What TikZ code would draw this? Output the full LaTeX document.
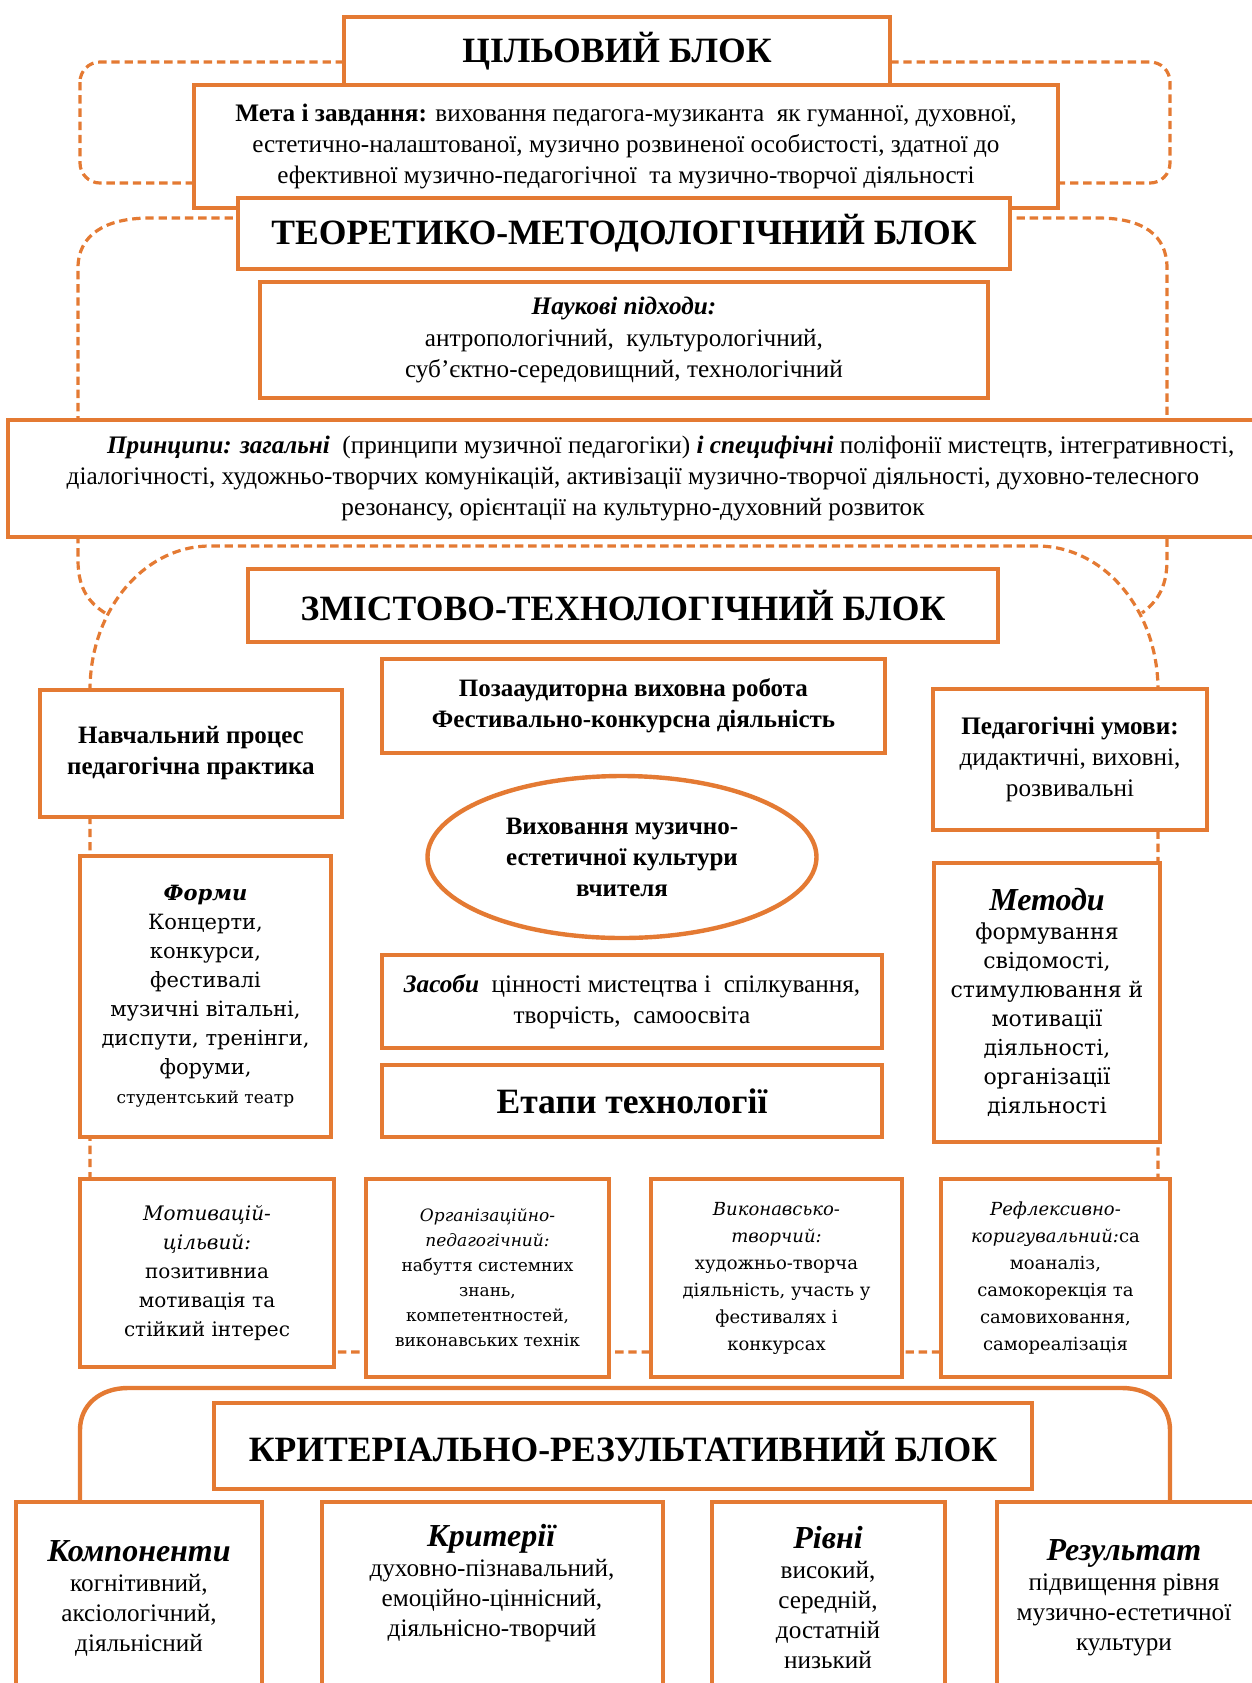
\documentclass[tikz,border=0pt]{standalone}
\usepackage{fontspec}
\setmainfont{Liberation Serif}
\newfontfamily\camb{DejaVu Serif}
\usetikzlibrary{shapes.geometric}
\definecolor{orng}{HTML}{E47A33}
\newcommand\mybox[7][]{\node[bx,minimum width={(#5-#3)*0.5pt},minimum height={(#6-#4)*0.5pt},#1] (#2) at ({(#3+#5)/2},{(#4+#6)/2}) {#7};}
\begin{document}
\begin{tikzpicture}[x=0.5pt,y=-0.5pt,
  bx/.style={draw=orng, line width=2.2pt, fill=white, inner sep=2pt, align=center, font=\fontsize{12.6}{15.6}\selectfont},
  dsh/.style={draw=orng, line width=1.6pt, dash pattern=on 4.2pt off 2.4pt},
  ttl/.style={font=\fontsize{17.8}{20}\selectfont\bfseries},
  txt/.style={align=center, inner sep=0pt, font=\fontsize{12.6}{15}\selectfont},
  stg/.style={font=\camb\fontsize{9}{13.5}\selectfont}]
\useasboundingbox (0,0) rectangle (1252,1683);
% dashed block frames
\draw[dsh, rounded corners=10pt] (80,62) rectangle (1170,183);
\draw[dsh] (105,613) .. controls (90,603) and (78,590) .. (78,560) -- (78,268) .. controls (78,235) and (105,218) .. (150,218) -- (1098,218) .. controls (1143,218) and (1167,235) .. (1167,268) -- (1167,560) .. controls (1167,590) and (1155,603) .. (1142,613);
\draw[dsh] (90,1352) -- (90,690) .. controls (90,610) and (144,546) .. (210,546) -- (1037,546) .. controls (1104,546) and (1158,610) .. (1158,690) -- (1158,1352) -- cycle;
% target block
\mybox[ttl]{tsil}{344}{17}{890}{85}{ЦІЛЬОВИЙ БЛОК}
\mybox{meta}{194}{85}{1058}{208}{\textbf{Мета і завдання:} виховання педагога-музиканта\ \ як гуманної, духовної,\\ естетично-налаштованої, музично розвиненої особистості, здатної до\\ ефективної музично-педагогічної\ \ та музично-творчої діяльності}
% theoretical block
\mybox[ttl]{teor}{238}{198}{1010}{269}{ТЕОРЕТИКО-МЕТОДОЛОГІЧНИЙ БЛОК}
\mybox{nauk}{260}{282}{988}{398}{\textbf{\textit{Наукові підходи:}}\\ антропологічний,\ \ культурологічний,\\ суб’єктно-середовищний, технологічний}
\mybox{pryn}{8}{420}{1258}{537}{\hspace*{3em}\textbf{\textit{Принципи: загальні}}\ \ (принципи музичної педагогіки) \textbf{\textit{і специфічні}} поліфонії мистецтв, інтегративності,\\ діалогічності, художньо-творчих комунікацій, активізації музично-творчої діяльності, духовно-телесного\\ резонансу, орієнтації на культурно-духовний розвиток}
% content block
\mybox[ttl]{zmist}{248}{569}{998}{642}{ЗМІСТОВО-ТЕХНОЛОГІЧНИЙ БЛОК}
\mybox[font=\fontsize{12.5}{15.5}\selectfont\bfseries]{poza}{382}{659}{885}{753}{Позааудиторна виховна робота\\ Фестивально-конкурсна діяльність}
\mybox[font=\fontsize{12.5}{15.5}\selectfont\bfseries]{navch}{40}{690}{342}{817}{Навчальний процес\\ педагогічна практика}
\mybox{umovy}{933}{689}{1207}{830}{\textbf{Педагогічні умови:}\\ дидактичні, виховні,\\ розвивальні}
\node[bx, ellipse, minimum width=194.5pt, minimum height=81pt, inner sep=0pt, font=\fontsize{12.5}{15.5}\selectfont\bfseries] (goal) at (622,857) {Виховання музично-\\ естетичної культури\\ вчителя};
\mybox[font=\camb\fontsize{10.5}{14.5}\selectfont]{formy}{80}{856}{331}{1137}{\textbf{\textit{Форми}}\\ Концерти,\\ конкурси,\\ фестивалі\\ музичні вітальні,\\ диспути, тренінги,\\ форуми,\\ {\fontsize{8.5}{12}\selectfont студентський театр}}
\mybox{zasoby}{382}{955}{882}{1048}{\textbf{\textit{Засоби}}\ \ цінності мистецтва і\ \ спілкування,\\ творчість,\ \ самоосвіта}
\mybox[ttl]{etapy}{382}{1065}{882}{1137}{Етапи технології}
\mybox[font=\camb\fontsize{11}{14.5}\selectfont]{metody}{934}{863}{1160}{1142}{{\rmfamily\fontsize{16}{19}\selectfont\textbf{\textit{Методи}}}\\ формування\\ свідомості,\\ стимулювання й\\ мотивації\\ діяльності,\\ організації\\ діяльності}
% stages
\mybox[stg, font=\camb\fontsize{10}{14.5}\selectfont]{st1}{80}{1179}{334}{1367}{\textit{Мотивацій-}\\ \textit{цільвий:}\\ позитивниа\\ мотивація та\\ стійкий інтерес}
\mybox[stg, font=\camb\fontsize{8.5}{12.5}\selectfont]{st2}{366}{1179}{609}{1377}{\textit{Організаційно-}\\ \textit{педагогічний:}\\ набуття системних\\ знань,\\ компетентностей,\\ виконавських технік}
\mybox[stg]{st3}{651}{1179}{902}{1377}{\textit{Виконавсько-}\\ \textit{творчий:}\\ художньо-творча\\ діяльність, участь у\\ фестивалях і\\ конкурсах}
\mybox[stg]{st4}{941}{1179}{1170}{1377}{\textit{Рефлексивно-}\\ \textit{коригувальний:}са\\ моаналіз,\\ самокорекція та\\ самовиховання,\\ самореалізація}
% criterial block
\draw[orng, line width=2.2pt] (80,1510) -- (80,1430) .. controls (80,1405) and (100,1388) .. (128,1388) -- (1122,1388) .. controls (1150,1388) and (1170,1405) .. (1170,1430) -- (1170,1510);
\mybox[ttl]{kryt}{214}{1403}{1032}{1489}{КРИТЕРІАЛЬНО-РЕЗУЛЬТАТИВНИЙ БЛОК}
\mybox{komp}{16}{1502}{262}{1720}{}
\mybox{kryter}{322}{1502}{663}{1720}{}
\mybox{rivni}{712}{1502}{945}{1720}{}
\mybox{rez}{997}{1502}{1260}{1720}{}
\node[txt] (kompT) at (139,1598) {{\fontsize{16}{19}\selectfont\textbf{\textit{Компоненти}}}\\ когнітивний,\\ аксіологічний,\\ діяльнісний};
\node[txt] (kryterT) at (492,1583) {{\fontsize{16}{19}\selectfont\textbf{\textit{Критерії}}}\\ духовно-пізнавальний,\\ емоційно-ціннісний,\\ діяльнісно-творчий};
\node[txt] (rivniT) at (828,1598) {{\fontsize{16}{19}\selectfont\textbf{\textit{Рівні}}}\\ високий,\\ середній,\\ достатній\\ низький};
\node[txt] (rezT) at (1124,1598) {{\fontsize{16}{19}\selectfont\textbf{\textit{Результат}}}\\ підвищення рівня\\ музично-естетичної\\ культури};
\end{tikzpicture}
\end{document}
